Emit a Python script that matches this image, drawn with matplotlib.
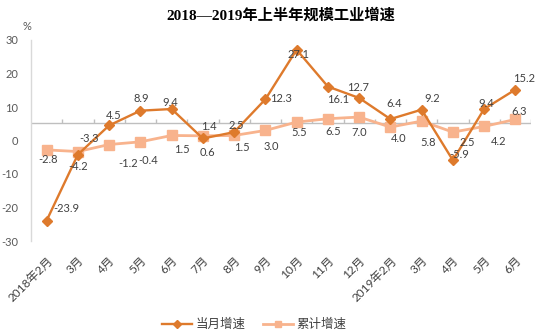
import matplotlib
matplotlib.use("Agg")
import matplotlib.pyplot as plt
import numpy as np
from matplotlib.lines import Line2D

plt.rcParams['font.family'] = ['Lato', 'Noto Sans CJK SC', 'DejaVu Sans']

categories = ["2018年2月", "3月", "4月", "5月", "6月", "7月", "8月", "9月", "10月",
              "11月", "12月", "2019年2月", "3月", "4月", "5月", "6月"]
monthly = [-23.9, -4.2, 4.5, 8.9, 9.4, 0.6, 2.5, 12.3, 27.1, 16.1, 12.7, 6.4, 9.2, -5.9, 9.4, 15.2]
cumulative = [-2.8, -3.3, -1.2, -0.4, 1.5, 1.4, 1.5, 3.0, 5.5, 6.5, 7.0, 4.0, 5.8, 2.5, 4.2, 6.3]
series_names = ["当月增速", "累计增速"]
yticks = [-30, -20, -10, 0, 10, 20, 30]
title = "2018—2019年上半年规模工业增速"

# label offsets in pixels (dx, dy up)
m_off = [(20, 12), (0, -12), (5, 10), (1, 12), (-1, 7), (5, -14), (2, 7), (16, 1),
         (2, -5), (10, -13), (-1, 10), (4, 16), (11, 11), (6, 6), (2, 6), (9, 11)]
c_off = [(1, -10), (11, 13), (19, -19), (8, -19), (10, -14), (6, 9), (8, -12), (6, -16),
         (3, -10), (5, -13), (0, -15), (8, -11), (6, -21), (14, -10), (14, -15), (4, 8)]

c_month = "#DE7A2C"
c_cum = "#F8B38D"
txt = "#404040"

fig = plt.figure(figsize=(5.42, 3.32), dpi=100)
ax = fig.add_axes([31/542, 1-241/332, 500/542, 201/332])
x = np.arange(len(categories))

ax.plot(x, cumulative, color=c_cum, lw=2.0, marker='s', ms=7, zorder=3, label=series_names[1])
ax.plot(x, monthly, color=c_month, lw=1.7, marker='D', ms=5.5, zorder=4, label=series_names[0])

ax.set_xlim(-0.5, len(categories) - 0.5)
ax.set_ylim(-30, 30)
ax.set_yticks(yticks)
ax.set_yticklabels([str(v) for v in yticks], fontsize=8, color="#595959")
ax.tick_params(axis='y', length=0, pad=9)
ax.set_xticks(x)
ax.set_xticklabels(categories, rotation=45, ha='right', va='top', rotation_mode='anchor',
                   fontsize=8.5, color="#404040")
ax.tick_params(axis='x', length=0, pad=10)
for s in ['top', 'right', 'bottom']:
    ax.spines[s].set_visible(False)
ax.spines['left'].set_color("#D9D9D9")
ax.spines['left'].set_linewidth(1.0)

# category axis line crossing the value axis
yc = 5.3
ax.axhline(yc, color="#BFBFBF", lw=1.0, zorder=1)
ax.vlines(np.arange(0.5, len(categories), 1.0), yc, yc + 1.2, color="#BFBFBF", lw=1.0, zorder=1)

for i, v in enumerate(monthly):
    ax.annotate(f"{v:.1f}", (i, v), xytext=m_off[i], textcoords='offset pixels',
                ha='center', va='center', fontsize=8, color=txt, zorder=5)
for i, v in enumerate(cumulative):
    ax.annotate(f"{v:.1f}", (i, v), xytext=c_off[i], textcoords='offset pixels',
                ha='center', va='center', fontsize=8, color=txt, zorder=5)

fig.text(27/542, 1-26/332, "%", fontsize=8, color="#595959", ha='center', va='center')
fig.text(281/542, 1-15/332, title, fontsize=11, color="#000000", ha='center', va='center',
         family=['Liberation Serif', 'Noto Sans CJK SC'], weight='bold')

handles = [Line2D([], [], color=c_month, lw=1.7, marker='D', ms=4),
           Line2D([], [], color=c_cum, lw=2.0, marker='s', ms=5)]
fig.legend(handles, series_names, loc='center', bbox_to_anchor=(254/542, 1-324/332),
           ncol=2, frameon=False, fontsize=9, handlelength=2.4, columnspacing=1.4,
           handletextpad=0.3, labelcolor="#404040")

fig.savefig("out.png", dpi=100)
